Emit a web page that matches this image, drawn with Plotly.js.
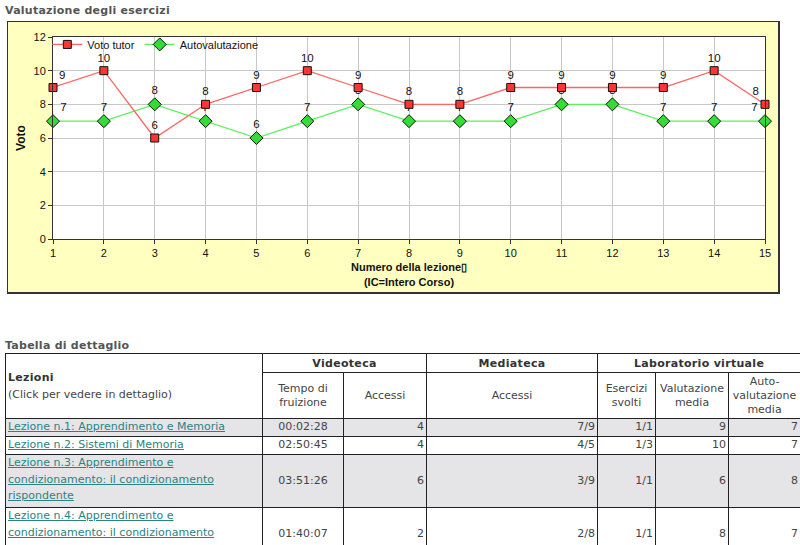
<!DOCTYPE html>
<html>
<head>
<meta charset="utf-8">
<script src="https://cdn.plot.ly/plotly-3.0.1.min.js"></script>
<style>
  html, body { margin: 0; padding: 0; background: #fff; overflow: hidden; width: 800px; height: 545px; }
  body { font-family: "DejaVu Sans", Verdana, sans-serif; position: relative; }
  .sect { position: absolute; left: 5px; font-size: 11px; font-weight: bold; color: #555; letter-spacing: 0.25px; }
  #chart { position: absolute; left: 7px; top: 21px; width: 770px; height: 270px;
           border-left: 1px solid #333; border-top: 1px solid #333;
           border-right: 2px solid #333; border-bottom: 2px solid #333; background: #FFFFC0; }
  table { position: absolute; left: 5px; top: 353px; border-collapse: collapse; table-layout: fixed; font-size: 11px; color: #444; }
  td, th { border: 1px solid #222; padding: 0 2px; overflow: hidden; }
  th.grp { font-weight: bold; color: #333; height: 18px; text-align: center; letter-spacing: 0.3px; }
  th.sub { font-weight: normal; color: #444; height: 45px; text-align: center; line-height: 14px; }
  th.lez { text-align: left; vertical-align: middle; font-weight: normal; line-height: 17px; }
  th.lez b { color: #333; letter-spacing: 0.3px; }
  tr.g td { background: #E5E5E7; }
  td { text-align: right; line-height: 16.5px; }
  td.l { text-align: left; vertical-align: top; }
  td.c { text-align: center; }
  a { color: #2A8383; text-decoration: underline; }
</style>
</head>
<body>
<div class="sect" style="top:4px;">Valutazione degli esercizi</div>
<div id="chart"></div>
<div class="sect" style="top:339px;">Tabella di dettaglio</div>
<table id="tbl"></table>
<script>
// ---- chart data ----
const lezioni = [1,2,3,4,5,6,7,8,9,10,11,12,13,14,15];
const votoTutor = [9,10,6,8,9,10,9,8,8,9,9,9,9,10,8];
const autovalutazione = [7,7,8,7,6,7,8,7,7,7,8,8,7,7,7];
const yTicks = [0,2,4,6,8,10,12];

// ---- table data ----
const titoliLezioni = [
  "Lezione n.1: Apprendimento e Memoria",
  "Lezione n.2: Sistemi di Memoria",
  "Lezione n.3: Apprendimento e condizionamento: il condizionamento rispondente",
  "Lezione n.4: Apprendimento e condizionamento: il condizionamento"
];
const tempoFruizione = ["00:02:28","02:50:45","03:51:26","01:40:07"];
const accessiVideo = [4,4,6,2];
const accessiMedia = ["7/9","4/5","3/9","2/8"];
const eserciziSvolti = ["1/1","1/3","1/1","1/1"];
const valutazioneMedia = [9,10,6,8];
const autoValMedia = [7,7,8,7];

const n = lezioni.length;
const tpos = lezioni.map((_, i) => i === 0 ? 'top right' : (i === n - 1 ? 'top left' : 'top center'));
const lblFont = { family: 'Liberation Sans, Arial, sans-serif', size: 11.5, color: '#111' };

const traces = [
  {
    x: lezioni, y: autovalutazione, name: 'Autovalutazione', type: 'scatter', mode: 'lines+markers+text',
    legendrank: 2,
    text: autovalutazione.map(String), textposition: tpos, cliponaxis: false, textfont: lblFont,
    line: { color: '#5CF05C', width: 1.3 },
    marker: { symbol: 'diamond', size: 10, color: '#33DD33', line: { color: '#111', width: 1 } }
  },
  {
    x: lezioni, y: votoTutor, name: 'Voto tutor', type: 'scatter', mode: 'lines+markers+text',
    legendrank: 1,
    text: votoTutor.map(String), textposition: tpos, cliponaxis: false, textfont: lblFont,
    line: { color: '#FF6464', width: 1.3 },
    marker: { symbol: 'square', size: 8, color: '#FF3535', line: { color: '#111', width: 1 } }
  }
];

const layout = {
  width: 770, height: 270,
  margin: { l: 45, r: 13, t: 15, b: 53, autoexpand: false },
  paper_bgcolor: '#FFFFC0', plot_bgcolor: '#FFFFFF',
  font: { family: 'Liberation Sans, Arial, sans-serif', size: 11, color: '#111' },
  showlegend: true,
  legend: { orientation: 'h', x: -0.008, y: 1.035, xanchor: 'left', yanchor: 'top',
            bgcolor: 'rgba(0,0,0,0)', font: { size: 11 } },
  xaxis: {
    range: [1, 15], tickvals: lezioni, ticks: 'outside', ticklen: 4, tickcolor: '#333',
    showgrid: true, gridcolor: '#C8C8C8', zeroline: false,
    showline: true, linecolor: '#333', linewidth: 1, mirror: true,
    tickfont: { size: 11 }, automargin: false,
    title: { text: '<b>Numero della lezione▯</b><br><b>(IC=Intero Corso)</b>', font: { size: 11 }, standoff: 5 }
  },
  yaxis: {
    range: [0, 12], tickvals: yTicks, ticks: 'outside', ticklen: 4, tickcolor: '#333',
    showgrid: true, gridcolor: '#C8C8C8', zeroline: false,
    showline: true, linecolor: '#333', linewidth: 1, mirror: true,
    tickfont: { size: 11 }, automargin: false,
    title: { text: '<b>Voto</b>', font: { size: 12 }, standoff: 5 }
  }
};

Plotly.newPlot('chart', traces, layout, { displayModeBar: false, staticPlot: true });

// ---- build table ----
const colW = [257, 81, 83, 171, 58, 73, 72];
const tbl = document.getElementById('tbl');
tbl.style.width = colW.reduce((a, b) => a + b, 0) + 'px';
let html = '<colgroup>' + colW.map(w => '<col style="width:' + w + 'px">').join('') + '</colgroup>';
html += '<tr><th rowspan="2" class="lez"><b>Lezioni</b><br>(Click per vedere in dettaglio)</th>' +
        '<th colspan="2" class="grp">Videoteca</th><th class="grp">Mediateca</th><th colspan="3" class="grp">Laboratorio virtuale</th></tr>';
html += '<tr><th class="sub">Tempo di<br>fruizione</th><th class="sub">Accessi</th><th class="sub">Accessi</th>' +
        '<th class="sub">Esercizi<br>svolti</th><th class="sub">Valutazione<br>media</th><th class="sub">Auto-<br>valutazione<br>media</th></tr>';
const rowH = [18, 18, 53, 53];
titoliLezioni.forEach((t, i) => {
  html += '<tr class="' + (i % 2 === 0 ? 'g' : 'w') + '" style="height:' + rowH[i] + 'px">' +
    '<td class="l"><a href="#">' + t + '</a></td>' +
    '<td class="c">' + tempoFruizione[i] + '</td>' +
    '<td>' + accessiVideo[i] + '</td>' +
    '<td>' + accessiMedia[i] + '</td>' +
    '<td>' + eserciziSvolti[i] + '</td>' +
    '<td>' + valutazioneMedia[i] + '</td>' +
    '<td>' + autoValMedia[i] + '</td></tr>';
});
tbl.innerHTML = html;
</script>
</body>
</html>
